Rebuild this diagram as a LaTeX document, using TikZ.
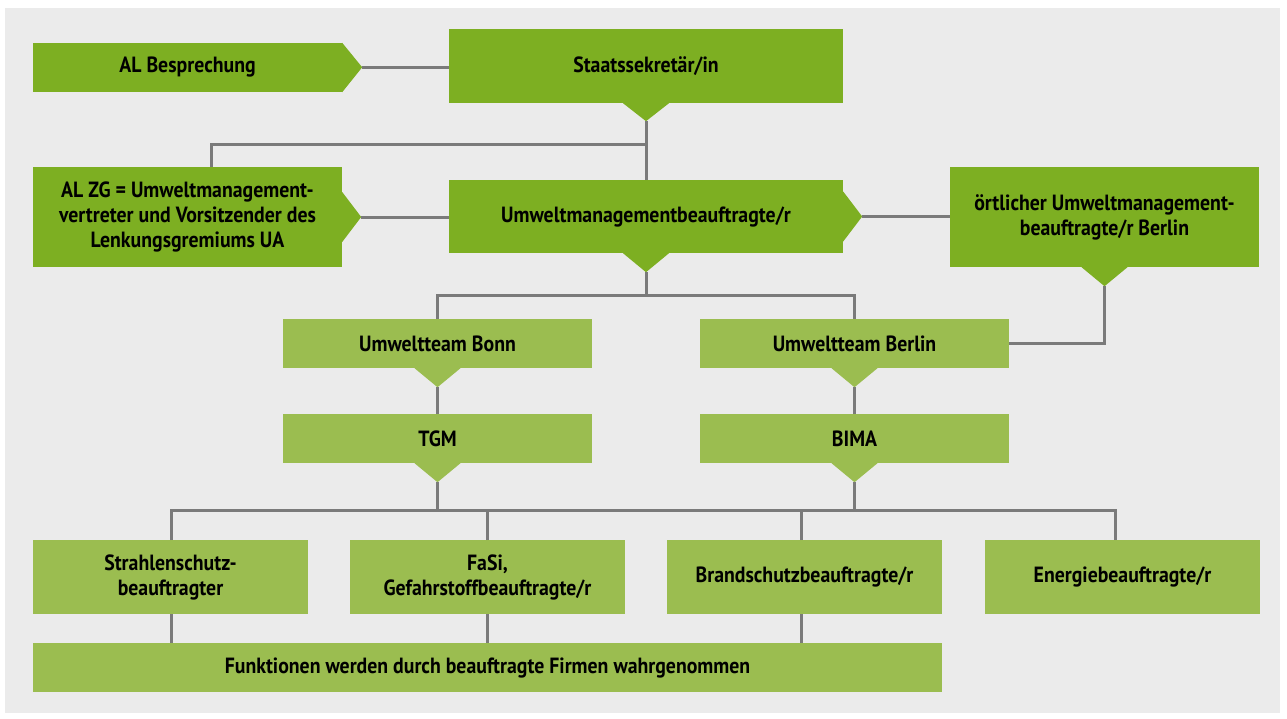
\documentclass[tikz,border=0pt]{standalone}
\usepackage{fontspec}
\setmainfont[FakeStretch=0.9]{PT Sans}
\usetikzlibrary{calc}
\definecolor{bggray}{HTML}{EBEBEB}
\definecolor{dgreen}{HTML}{7DAF22}
\definecolor{lgreen}{HTML}{9BBD50}
\definecolor{lgray}{HTML}{7A7A7A}
\tikzset{
  box/.style={rectangle, inner sep=0pt, align=center, font=\fontsize{22}{25}\selectfont\bfseries, text=black},
  dbox/.style={box, fill=dgreen},
  lbox/.style={box, fill=lgreen},
  conn/.style={draw=lgray, line width=3pt},
}
\begin{document}
\begin{tikzpicture}[x=1pt,y=-1pt]
\useasboundingbox (0,0) rectangle (1287,718);
\fill[bggray] (5,8) rectangle (1280,713);

% boxes
\node[dbox, minimum width=309pt, minimum height=49pt] (alb) at (187.5,67.5) {AL Besprechung};
\node[dbox, minimum width=394pt, minimum height=74pt] (ss) at (646,66) {Staatssekretär/in};
\node[dbox, minimum width=309pt, minimum height=100pt] (alzg) at (187.5,217) {AL ZG = Umweltmanagement-\\vertreter und Vorsitzender des\\Lenkungsgremiums UA};
\node[dbox, minimum width=394pt, minimum height=73pt] (umb) at (646,216.5) {Umweltmanagementbeauftragte/r};
\node[dbox, minimum width=309pt, minimum height=100pt] (ort) at (1104.5,217) {örtlicher Umweltmanagement-\\beauftragte/r Berlin};
\node[lbox, minimum width=309pt, minimum height=49pt] (utbonn) at (437.5,343.5) {Umweltteam Bonn};
\node[lbox, minimum width=309pt, minimum height=49pt] (tgm) at (437.5,438.5) {TGM};
\node[lbox, minimum width=309pt, minimum height=49pt] (utber) at (854.5,343.5) {Umweltteam Berlin};
\node[lbox, minimum width=309pt, minimum height=49pt] (bima) at (854.5,438.5) {BIMA};
\node[lbox, minimum width=275pt, minimum height=74pt] (strahl) at (170.5,577) {Strahlenschutz-\\beauftragter};
\node[lbox, minimum width=275pt, minimum height=74pt] (fasi) at (487.5,577) {FaSi,\\Gefahrstoffbeauftragte/r};
\node[lbox, minimum width=275pt, minimum height=74pt] (brand) at (804.5,577) {Brandschutzbeauftragte/r};
\node[lbox, minimum width=275pt, minimum height=74pt] (energie) at (1122.5,577) {Energiebeauftragte/r};
\node[lbox, minimum width=909pt, minimum height=49pt] (funk) at (487.5,667.5) {Funktionen werden durch beauftragte Firmen wahrgenommen};

% pointers (right)
\fill[dgreen] (alb.north east) -- ++(20,24.5) -- (alb.south east) -- cycle;
\coordinate (albTip) at ($(alb.east)+(20,0)$);
\fill[dgreen] ($(alzg.east)+(0,-25)$) -- ++(19,25) -- ++(-19,25) -- cycle;
\coordinate (alzgTip) at ($(alzg.east)+(19,0)$);
\fill[dgreen] ($(umb.east)+(0,-25)$) -- ++(19,25) -- ++(-19,25) -- cycle;
\coordinate (umbRTip) at ($(umb.east)+(19,0)$);
% pointers (down)
\fill[dgreen] ($(ss.south)+(-23,0)$) -- ++(23,18) -- ++(23,-18) -- cycle;
\coordinate (ssTip) at ($(ss.south)+(0,18)$);
\fill[dgreen] ($(umb.south)+(-23,0)$) -- ++(23,19) -- ++(23,-19) -- cycle;
\coordinate (umbTip) at ($(umb.south)+(0,19)$);
\fill[dgreen] ($(ort.south)+(-23,0)$) -- ++(23,19) -- ++(23,-19) -- cycle;
\coordinate (ortTip) at ($(ort.south)+(0,19)$);
\foreach \n in {utbonn,tgm,utber,bima}{
  \fill[lgreen] ($(\n.south)+(-23,0)$) -- ++(23,19) -- ++(23,-19) -- cycle;
  \coordinate (\n Tip) at ($(\n.south)+(0,19)$);
}

% junction coordinates
\coordinate (j1) at (646,144);
\coordinate (j2) at (646,295);
\coordinate (j3) at (437.5,510);
\coordinate (j4) at (854.5,510);
\coordinate (aN) at (211,167);
\coordinate (sN) at (171,540);
\coordinate (fN) at (487.5,540);
\coordinate (bN) at (801,540);
\coordinate (eN) at (1115,540);
\coordinate (sS) at (171,614);
\coordinate (fS) at (487.5,614);
\coordinate (bS) at (801,614);
\coordinate (hL) at (171,510);
\coordinate (hR) at (1115,510);

% connectors
\draw[conn] (albTip) -- (albTip -| ss.west);
\draw[conn] (ssTip) -- (umb.north);
\draw[conn] (aN) |- (j1);
\draw[conn] (alzgTip) -- (alzgTip -| umb.west);
\draw[conn] (umbRTip) -- (umbRTip -| ort.west);
\draw[conn] (umbTip) -- (j2);
\draw[conn] (utbonn.north) |- (j2) -| (utber.north);
\draw[conn] (ortTip) |- (utber.east);
\draw[conn] (utbonnTip) -- (tgm.north);
\draw[conn] (utberTip) -- (bima.north);
\draw[conn] (tgmTip) -- (j3);
\draw[conn] (bimaTip) -- (j4);
\draw[conn] (sN) -- (hL) -- (hR) -- (eN);
\draw[conn] (fN) -- (fN |- hL);
\draw[conn] (bN) -- (bN |- hL);
\draw[conn] (sS) -- (sS |- funk.north);
\draw[conn] (fS) -- (fS |- funk.north);
\draw[conn] (bS) -- (bS |- funk.north);
\end{tikzpicture}
\end{document}
